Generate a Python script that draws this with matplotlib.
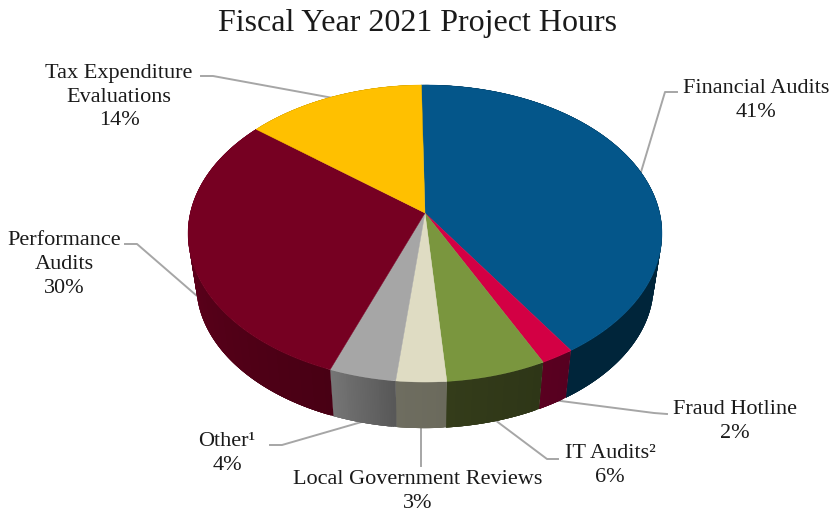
import numpy as np
import matplotlib
matplotlib.use("Agg")
import matplotlib.pyplot as plt
from matplotlib.colors import to_rgb

categories = ["Financial Audits", "Fraud Hotline", "IT Audits²", "Local Government Reviews",
              "Other¹", "Performance\nAudits", "Tax Expenditure\nEvaluations"]
values = [41, 2, 6, 3, 4, 30, 14]
top_colors = ["#04568a", "#d30044", "#7a963e", "#dfdcc3", "#a6a6a6", "#760022", "#ffc000"]
side_start = ["#00253a", "#560020", "#2e3617", "#6b6a5c", "#585858", "#480014", "#a88000"]
side_end = ["#00253a", "#5a0020", "#343c1a", "#6e6d60", "#757575", "#6c0020", "#a88000"]
label_pos = [(756, 100.5), (735, 421.5), (610, 465.5), (418, 491.5), (227, 453.5), (64, 264.5), (119, 97)]
leaders = [[(641, 172), (665, 92), (677, 92)],
           [(553, 400), (654, 413), (667, 414)],
           [(495, 420), (547, 459), (558, 459)],
           [(421, 427), (421, 466)],
           [(365, 421), (282, 445), (270, 445)],
           [(197, 296), (137, 244), (125, 244)],
           [(333, 98), (213, 76), (201, 76)]]
start_deg = -1.0

CX, CY, A, B, K = 425.0, 213.0, 234.7, 145.7, 0.138
DROP, SHRINK = 52.0, 0.965
SERIF = "Liberation Serif"


def proj(theta, r=1.0, level=0.0):
    """theta clockwise from the back of the disc; level 0 = top face, 1 = bottom."""
    u, v = r * np.sin(theta), r * np.cos(theta)
    w = 1 + K * v
    s = 1 + (SHRINK - 1) * level
    return CX + s * A * u / w, CY + DROP * level - s * B * v / w


fig = plt.figure(figsize=(8.36, 5.13), dpi=100, facecolor="white")
ax = fig.add_axes([0, 0, 1, 1])
ax.set_xlim(0, 836)
ax.set_ylim(513, 0)
ax.axis("off")

edges = np.radians(start_deg + np.cumsum([0] + values) * 3.6)

# side wall: overlapping strips painted in order, so no seams show
for i in range(len(values)):
    a, b = edges[i], edges[i + 1]
    n = max(int((b - a) / np.radians(0.5)), 2)
    ts = np.linspace(a, b, n + 1)
    c0, c1 = np.array(to_rgb(side_start[i])), np.array(to_rgb(side_end[i]))
    for j in range(n):
        t = np.linspace(ts[j], b if j + 4 > n else ts[j + 4], 6)
        col = c0 + (c1 - c0) * j / max(n - 1, 1)
        x0, y0 = proj(t)
        x1, y1 = proj(t[::-1], level=1)
        ax.fill(np.r_[x0, x1], np.r_[y0, y1], color=col, lw=0, zorder=2)

# top face
for i in range(len(values)):
    t = np.linspace(edges[i], edges[i + 1], 200)
    x, y = proj(t)
    ax.fill(np.r_[CX, x], np.r_[CY, y], color=top_colors[i], lw=0.3, zorder=3)

# leader lines
for pts in leaders:
    ax.plot(*zip(*pts), color="#a6a6a6", lw=1.4, zorder=1, solid_joinstyle="round")

# labels
for name, val, (lx, ly) in zip(categories, values, label_pos):
    ax.text(lx, ly, f"{name}\n{val}%", ha="center", va="center", family=SERIF,
            fontsize=16, color="#1a1a1a", linespacing=1.35, zorder=5)

ax.text(418, 24, "Fiscal Year 2021 Project Hours", ha="center", va="center",
        family=SERIF, fontsize=23, color="#1a1a1a")

fig.savefig("out.png", dpi=100, facecolor="white")
